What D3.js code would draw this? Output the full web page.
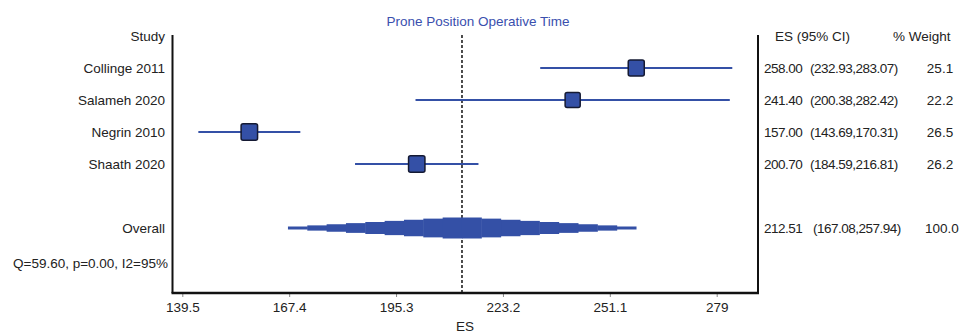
<!DOCTYPE html>
<html>
<head>
<meta charset="utf-8">
<script src="https://cdn.jsdelivr.net/npm/d3@7"></script>
<style>
  body { margin: 0; background: #fff; }
  text { font-family: "Liberation Sans", Arial, sans-serif; font-size: 13.5px; fill: #222; }
  text.num { letter-spacing: -0.5px; }
</style>
</head>
<body>
<script>
// study data
const studies = ['Collinge 2011', 'Salameh 2020', 'Negrin 2010', 'Shaath 2020']
const es = [258.0, 241.4, 157.0, 200.7]
const lo = [232.93, 200.38, 143.69, 184.59]
const hi = [283.07, 282.42, 170.31, 216.81]
const weight = [25.1, 22.2, 26.5, 26.2]

// pooled
const overall = { es: 212.51, lo: 167.08, hi: 257.94, weight: 100.0 }
const hetero = 'Q=59.60, p=0.00, I2=95%'
const tickValues = [139.5, 167.4, 195.3, 223.2, 251.1, 279]
const tickLabels = ['139.5', '167.4', '195.3', '223.2', '251.1', '279']

const width = 961
const height = 333
const blue = '#3450a6'

const svg = d3.select('body').append('svg').attr('width', width).attr('height', height)

const x = d3.scaleLinear().domain([139.5, 279]).range([182.3, 716.7])
const frameL = 172.5
const frameR = 758
const frameT = 35
const frameB = 293

// row positions
const rowY = d3.scalePoint().domain(d3.range(6)).range([68, 228])

// frame
svg.append('line').attr('x1', frameL).attr('x2', frameL).attr('y1', frameT).attr('y2', frameB)
  .attr('stroke', '#111').attr('stroke-width', 2)
svg.append('line').attr('x1', frameR).attr('x2', frameR).attr('y1', frameT).attr('y2', frameB)
  .attr('stroke', '#111').attr('stroke-width', 2)

// x axis
const axis = svg.append('g').attr('transform', `translate(0,${frameB})`)
  .call(d3.axisBottom(x).tickValues(tickValues).tickFormat((d, i) => tickLabels[i]).tickSize(4).tickPadding(5))
axis.select('.domain').remove()
axis.append('line').attr('x1', frameL - 1).attr('x2', frameR + 1).attr('stroke', '#111').attr('stroke-width', 2.5)
axis.selectAll('.tick line').attr('stroke', '#888')
axis.selectAll('.tick text').attr('font-size', 13.5).attr('fill', '#222')
  .attr('font-family', '"Liberation Sans", Arial, sans-serif')

svg.append('text').attr('x', x(overall.es) + 3).attr('y', 331).attr('text-anchor', 'middle').text('ES')

// title
svg.append('text').attr('x', 478).attr('y', 26).attr('text-anchor', 'middle')
  .style('fill', '#3a4fae').text('Prone Position Operative Time')

// pooled estimate line
svg.append('line').attr('x1', x(overall.es)).attr('x2', x(overall.es))
  .attr('y1', frameT).attr('y2', frameB)
  .attr('stroke', '#111').attr('stroke-width', 1.5).attr('stroke-dasharray', '3,2')

// headers
svg.append('text').attr('x', 165).attr('y', 41).attr('text-anchor', 'end').text('Study')
svg.append('text').attr('x', 775).attr('y', 41).text('ES (95% CI)')
svg.append('text').attr('x', 893).attr('y', 41).text('% Weight')

// study rows
const rows = svg.append('g').selectAll('g').data(studies).join('g')
  .attr('transform', (d, i) => `translate(0,${rowY(i)})`)

rows.append('text').attr('x', 165).attr('dy', '0.35em').attr('text-anchor', 'end').text((d) => d)

rows.append('line')
  .attr('x1', (d, i) => x(lo[i])).attr('x2', (d, i) => x(hi[i]))
  .attr('stroke', blue).attr('stroke-width', 2)

rows.append('rect')
  .attr('x', (d, i) => x(es[i]) - 1.6 * Math.sqrt(weight[i]))
  .attr('y', (d, i) => -1.6 * Math.sqrt(weight[i]))
  .attr('width', (d, i) => 3.2 * Math.sqrt(weight[i]))
  .attr('height', (d, i) => 3.2 * Math.sqrt(weight[i]))
  .attr('rx', 2)
  .attr('fill', blue).attr('stroke', '#151a33').attr('stroke-width', 1.5)

rows.append('text').attr('class', 'num').attr('x', 764).attr('dy', '0.35em').text((d, i) => es[i].toFixed(2))
rows.append('text').attr('class', 'num').attr('x', 810).attr('dy', '0.35em')
  .text((d, i) => `(${lo[i].toFixed(2)},${hi[i].toFixed(2)})`)
rows.append('text').attr('x', 940).attr('dy', '0.35em').attr('text-anchor', 'middle')
  .text((d, i) => weight[i].toFixed(1))

// overall row: stepped diamond
const oy = rowY(5)
const nSteps = 9
const steps = []
for (let i = 0; i < nSteps; i++) {
  const h = 1.5 + (i * (10.5 - 1.5)) / (nSteps - 1)
  const tL = i / nSteps
  const tR = (i + 1) / nSteps
  steps.push({ x0: overall.lo + (overall.es - overall.lo) * tL, x1: overall.lo + (overall.es - overall.lo) * tR, h })
  steps.push({ x0: overall.hi - (overall.hi - overall.es) * tR, x1: overall.hi - (overall.hi - overall.es) * tL, h })
}
svg.append('g').selectAll('rect').data(steps).join('rect')
  .attr('x', (d) => x(d.x0)).attr('width', (d) => x(d.x1) - x(d.x0) + 0.5)
  .attr('y', (d) => oy - d.h).attr('height', (d) => 2 * d.h)
  .attr('fill', blue)

svg.append('text').attr('x', 165).attr('y', oy).attr('dy', '0.35em').attr('text-anchor', 'end').text('Overall')
svg.append('text').attr('class', 'num').attr('x', 764).attr('y', oy).attr('dy', '0.35em').text(overall.es.toFixed(2))
svg.append('text').attr('class', 'num').attr('x', 813).attr('y', oy).attr('dy', '0.35em')
  .text(`(${overall.lo.toFixed(2)},${overall.hi.toFixed(2)})`)
svg.append('text').attr('x', 942).attr('y', oy).attr('dy', '0.35em').attr('text-anchor', 'middle')
  .text(overall.weight.toFixed(1))

// heterogeneity
svg.append('text').attr('x', 168).attr('y', 263).attr('dy', '0.35em').attr('text-anchor', 'end').text(hetero)
</script>
</body>
</html>
